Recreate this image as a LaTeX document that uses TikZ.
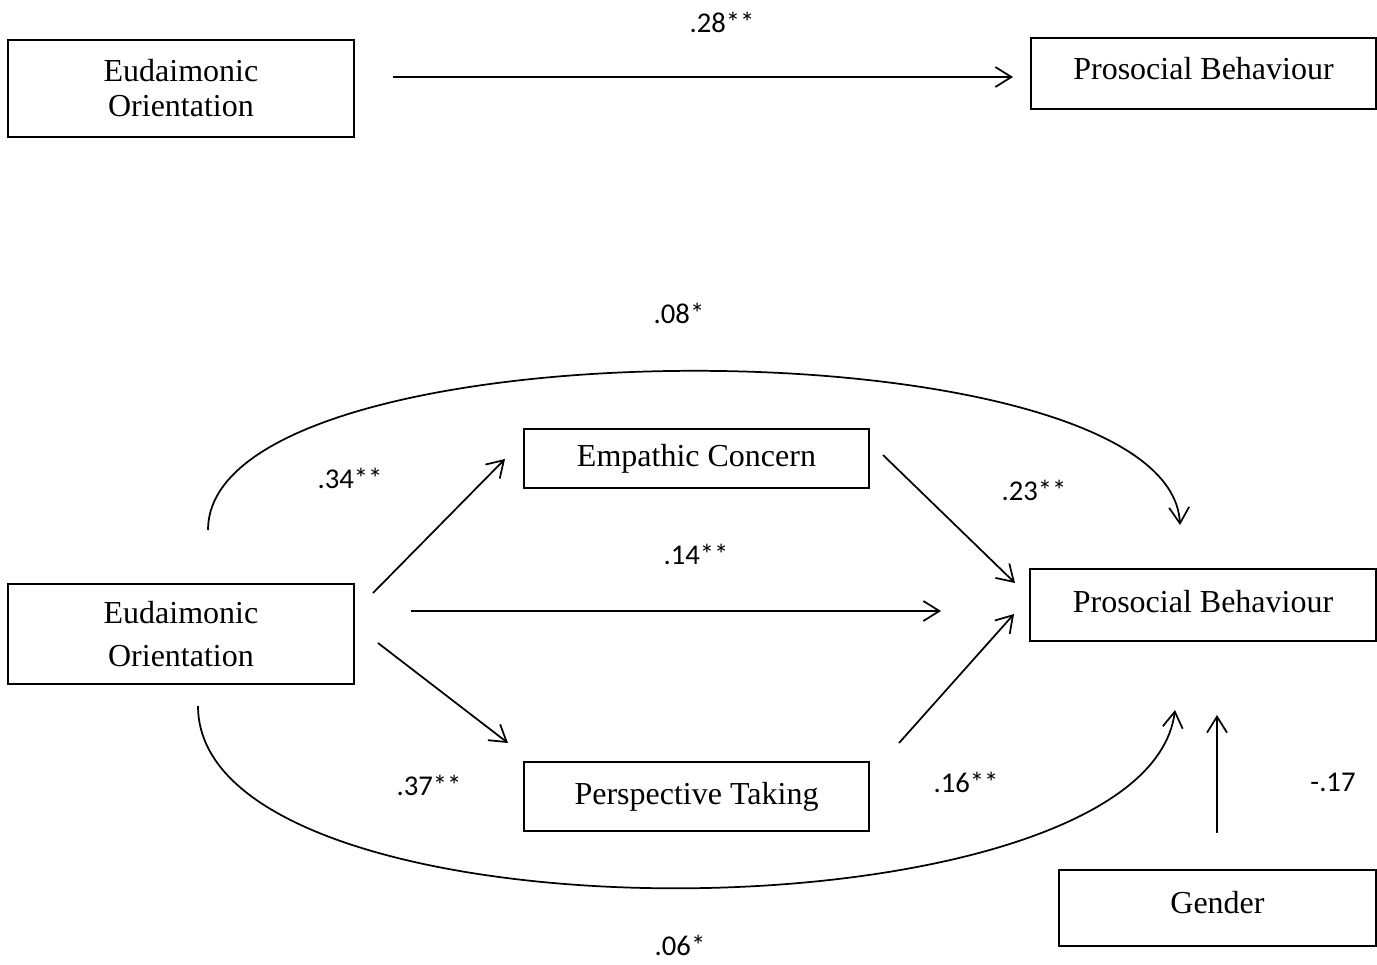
\documentclass[tikz,border=0pt]{standalone}
\usepackage{fontspec}
\setmainfont{Liberation Serif}
\newfontfamily\numfont{Carlito}
\usetikzlibrary{arrows.meta}
\begin{document}
\begin{tikzpicture}[x=0.75pt,y=-0.75pt,
  box/.style={draw, line width=1.4pt, inner sep=0pt, align=center,
    font=\fontsize{24}{26}\selectfont},
  lbl/.style={font=\numfont\fontsize{21.5}{24}\selectfont, inner sep=0pt},
  arr/.style={line width=1.3pt, -{Straight Barb[length=12pt,width=15pt,line width=1.3pt]}}
]
\useasboundingbox (0,0) rectangle (1377,964);

% top model
\node[box, minimum width=346*0.75pt, minimum height=97*0.75pt,
  font=\fontsize{24}{26.3}\selectfont] (eo1) at (181,88.5) {Eudaimonic\\Orientation};
\node[box, minimum width=345*0.75pt, minimum height=71*0.75pt, text depth=7.5pt] (pb1) at (1203.5,73.5) {Prosocial Behaviour};
\coordinate (a1s) at (393,77);
\coordinate (a1e) at (1013,77);
\draw[arr] (a1s) -- (a1e);
\node[lbl] (l28) at (722,22) {.28**};

% bottom model
\node[box, minimum width=346*0.75pt, minimum height=100*0.75pt,
  font=\fontsize{24}{32}\selectfont] (eo2) at (181,634) {Eudaimonic\\Orientation};
\node[box, minimum width=345*0.75pt, minimum height=59*0.75pt] (ec) at (696.5,458.5) {Empathic Concern};
\node[box, minimum width=346*0.75pt, minimum height=72*0.75pt, text depth=6pt] (pb2) at (1203,605) {Prosocial Behaviour};
\node[box, minimum width=345*0.75pt, minimum height=69*0.75pt] (pt) at (696.5,796.5) {Perspective Taking};
\node[box, minimum width=317*0.75pt, minimum height=76*0.75pt, text depth=9pt] (gen) at (1217.5,908) {Gender};

\coordinate (eoEcS) at (373,593);
\coordinate (eoEcE) at (505,459);
\coordinate (ecPbS) at (883,455);
\coordinate (ecPbE) at (1015,583);
\coordinate (eoPbS) at (411,611);
\coordinate (eoPbE) at (941,611);
\coordinate (eoPtS) at (378,643);
\coordinate (eoPtE) at (508,743);
\coordinate (ptPbS) at (899,743);
\coordinate (ptPbE) at (1014,614);
\coordinate (topS) at (208,530);
\coordinate (topE) at (1180,525);
\coordinate (botS) at (198,706);
\coordinate (botE) at (1175,710);
\coordinate (genS) at (1217,833);
\coordinate (genE) at (1217,715);

\draw[arr] (eoEcS) -- (eoEcE);
\draw[arr] (ecPbS) -- (ecPbE);
\draw[arr] (eoPbS) -- (eoPbE);
\draw[arr] (eoPtS) -- (eoPtE);
\draw[arr] (ptPbS) -- (ptPbE);
\draw[arr] (topS) .. controls (208,318) and (1170,320) .. (topE);
\draw[arr] (botS) .. controls (198,951) and (1145,945) .. (botE);
\draw[arr] (genS) -- (genE);

\node[lbl] (l08) at (679,313) {.08*};
\node[lbl] (l34) at (350,478) {.34**};
\node[lbl] (l23) at (1034,490) {.23**};
\node[lbl] (l14) at (696,554) {.14**};
\node[lbl] (l37) at (429,785) {.37**};
\node[lbl] (l16) at (966,782) {.16**};
\node[lbl] (l17) at (1333,782) {-.17};
\node[lbl] (l06) at (680,945) {.06*};
\end{tikzpicture}
\end{document}
